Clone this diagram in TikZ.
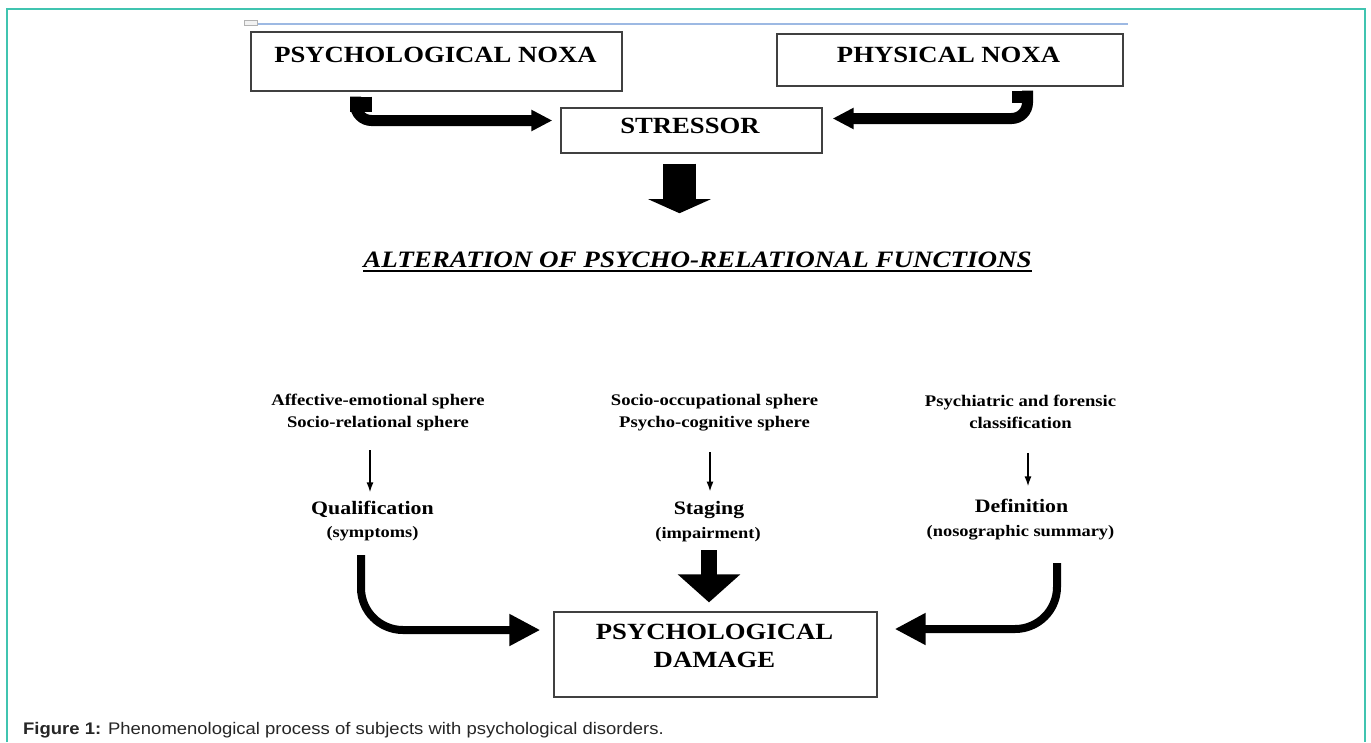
\documentclass[tikz,border=0pt]{standalone}
\usepackage{fontspec}
\usepackage{xcolor}
\usepackage{tikz}
\usetikzlibrary{arrows.meta, calc, positioning}

\newfontfamily\diagfont{Liberation Serif}[FakeStretch=1.15]
\newfontfamily\capfont{Liberation Sans}[FakeStretch=1.1]
\definecolor{frameteal}{RGB}{64,196,176}
\definecolor{rulebl}{RGB}{157,185,227}

\begin{document}
\begin{tikzpicture}[x=1pt, y=-1pt,
    nbox/.style={draw=black!75, line width=1.3pt, inner sep=0pt},
    boxlabel/.style={font=\diagfont\bfseries\fontsize{23.2}{28}\selectfont, inner sep=0pt},
    sphere/.style={font=\diagfont\bfseries\fontsize{16.2}{22}\selectfont, inner sep=0pt, align=center, anchor=north},
    stagehead/.style={font=\diagfont\bfseries\fontsize{19}{22}\selectfont, inner sep=0pt, anchor=base},
    stagesub/.style={font=\diagfont\bfseries\fontsize{16}{20}\selectfont, inner sep=0pt, anchor=base},
    thinarr/.style={line width=1.6pt, -{Latex[length=10pt, width=7pt]}},
    bentarr/.style={line width=11pt, rounded corners=16pt, -{Triangle[length=21pt, width=20pt]}},
    fatarr/.style={line width=33pt, -{Triangle[length=14pt, width=62pt]}},
    curvearr/.style={line width=8pt, rounded corners=42pt, -{Triangle[length=31pt, width=30pt]}}]

    \useasboundingbox (0,0) rectangle (1371,742);

    % =================================================================
    % FRAME AND TOP RULE
    % =================================================================
    \draw[frameteal, line width=1.5pt] (7,742) -- (7,9) -- (1365,9) -- (1365,742);
    \draw[rulebl, line width=2.2pt] (244,24) -- (1128,24);
    \draw[gray!60, fill=gray!10, line width=0.6pt] (244,20) rectangle (257,25);

    % =================================================================
    % NOXA BOXES AND STRESSOR
    % =================================================================
    \node[nbox, minimum width=371pt, minimum height=59pt] (psynoxa) at (436.5,61.5) {};
    \node[boxlabel, anchor=base] (psynoxatxt) at (435.5,62) {PSYCHOLOGICAL NOXA};

    \node[nbox, minimum width=346pt, minimum height=52pt] (physnoxa) at (950,60) {};
    \node[boxlabel, anchor=base] (physnoxatxt) at (948.5,62) {PHYSICAL NOXA};

    \node[nbox, minimum width=261pt, minimum height=45pt] (stressor) at (691.5,130.5) {};
    \node[boxlabel, anchor=base] (stressortxt) at (690,133) {STRESSOR};

    % bent arrows into the stressor (thick stub + bent shaft)
    \draw[line width=22pt, shorten <=5pt] ([xshift=-75.5pt]psynoxa.south) -- ++(0,20);
    \draw[bentarr, shorten <=5pt, shorten >=8pt]
        ([xshift=-81pt]psynoxa.south) |- ([yshift=10pt]stressor.west);

    \draw[line width=21pt, shorten <=4pt] ([xshift=72.5pt]physnoxa.south) -- ++(0,16);
    \draw[bentarr, shorten <=4pt, shorten >=10pt]
        ([xshift=77.5pt]physnoxa.south) |- ([yshift=12pt]stressor.east);

    % =================================================================
    % ALTERATION HEADING
    % =================================================================
    \node[font=\diagfont\bfseries\itshape\fontsize{23.5}{28}\selectfont, inner sep=0pt, anchor=base]
        (alter) at (697.5,267) {ALTERATION OF PSYCHO-RELATIONAL FUNCTIONS};
    \draw[line width=2.4pt] ([yshift=-4pt]alter.base west) -- ([yshift=-4pt]alter.base east);

    \draw[fatarr, shorten <=10pt, shorten >=38pt]
        ([xshift=-12pt]stressor.south) -- ([xshift=-12pt]stressor.south |- alter.north);

    % =================================================================
    % THREE COLUMNS
    % =================================================================
    \node[sphere] (affect) at (378,394) {Affective-emotional sphere\\Socio-relational sphere};
    \node[sphere] (occup) at (714.5,394) {Socio-occupational sphere\\Psycho-cognitive sphere};
    \node[sphere] (classif) at (1020.5,395) {Psychiatric and forensic\\classification};

    \node[stagehead] (qual) at (372.5,514) {Qualification};
    \node[stagehead] (staging) at (709,514) {Staging};
    \node[stagehead] (defin) at (1021.5,512) {Definition};

    \node[stagesub] (symptoms) at (372.5,537.5) {(symptoms)};
    \node[stagesub] (impair) at (708,538.5) {(impairment)};
    \node[stagesub] (nosog) at (1020.5,536.5) {(nosographic summary)};

    \draw[thinarr, shorten <=19pt, shorten >=8pt]
        ([xshift=-2.5pt]qual.north |- affect.south) -- ([xshift=-2.5pt]qual.north);
    \draw[thinarr, shorten <=21pt, shorten >=9pt]
        ([xshift=1pt]staging.north |- occup.south) -- ([xshift=1pt]staging.north);
    \draw[thinarr, shorten <=24pt, shorten >=12pt]
        ([xshift=6.5pt]defin.north |- classif.south) -- ([xshift=6.5pt]defin.north);

    % =================================================================
    % PSYCHOLOGICAL DAMAGE
    % =================================================================
    \node[nbox, minimum width=323pt, minimum height=85pt] (damage) at (715.5,654.5) {};
    \node[boxlabel, align=center, anchor=north] (damagetxt) at (714.5,624)
        {PSYCHOLOGICAL\\DAMAGE};

    \draw[curvearr, shorten <=14pt, shorten >=13pt]
        ([xshift=-11.5pt]symptoms.south) |- ([yshift=24.5pt]damage.west);
    \draw[line width=16pt, -{Triangle[length=28pt, width=61pt]}, shorten <=8pt, shorten >=9pt]
        ([xshift=1pt]impair.south) -- ([xshift=1pt]impair.south |- damage.north);
    \draw[curvearr, shorten <=23pt, shorten >=17pt]
        ([xshift=36.5pt]nosog.south) |- ([yshift=25.5pt]damage.east);

    % caption
    \node[font=\capfont\fontsize{16.8}{20}\selectfont, text=black!85, inner sep=0pt, anchor=base west]
        (caption) at (23,734) {\textbf{Figure 1:} Phenomenological process of subjects with psychological disorders.};

\end{tikzpicture}
\end{document}
